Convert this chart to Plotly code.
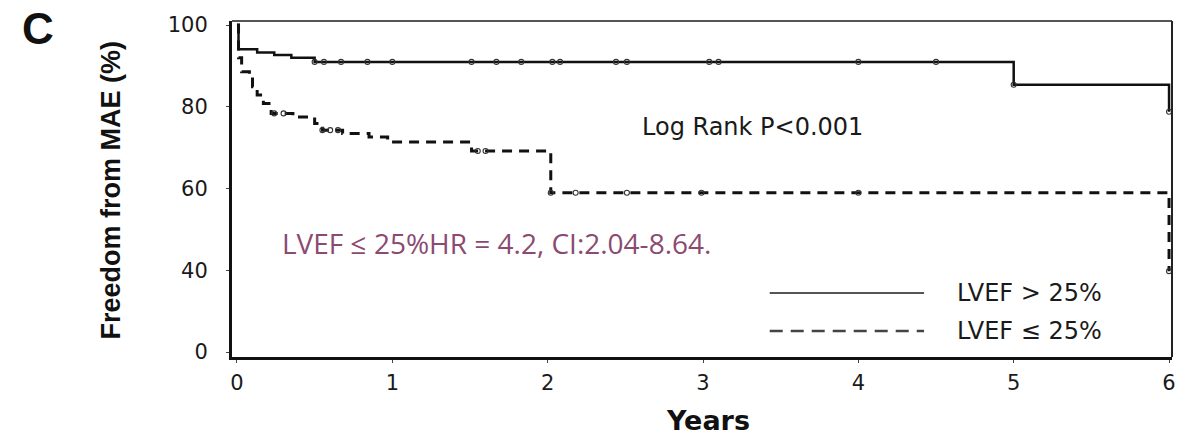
import numpy as np
import plotly.graph_objects as go

# Kaplan-Meier step data (years, % free from MAE)
high_ef_times = [0.0, 0.01, 0.13, 0.24, 0.35, 0.50, 5.00, 6.00]
high_ef_surv = [100.0, 94.1, 93.3, 92.7, 92.0, 91.0, 85.4, 78.8]

low_ef_times = [0.0, 0.01, 0.03, 0.08, 0.10, 0.13, 0.17, 0.22, 0.36, 0.50,
                0.55, 0.68, 0.85, 0.97, 1.51, 2.02, 6.00]
low_ef_surv = [100.0, 92.0, 88.6, 87.4, 84.9, 82.9, 80.8, 78.4, 77.5, 75.9,
               74.3, 73.5, 72.6, 71.4, 69.2, 59.0, 39.6]

# censored observations (years)
high_ef_censored = [0.50, 0.56, 0.67, 0.84, 1.00, 1.51, 1.67, 1.83, 2.03, 2.08,
                    2.44, 2.51, 3.04, 3.10, 4.00, 4.50, 5.00, 6.00]
low_ef_censored = [0.24, 0.30, 0.55, 0.60, 0.65, 1.55, 1.60, 2.02, 2.18, 2.51,
                   2.99, 4.00, 6.00]

y_tick_values = [0, 40, 60, 80, 100]
x_tick_values = [0, 1, 2, 3, 4, 5, 6]

series_names = ["LVEF > 25%", "LVEF \u2264 25%"]
p_value_text = "Log Rank P<0.001"
hr_text = "LVEF \u2264 25%HR = 4.2, CI:2.04-8.64."

# broken y axis: 0-40 is compressed to half scale
def ybreak(v):
    v = np.asarray(v, dtype=float)
    return np.where(v >= 40, v, 40 - (40 - v) / 2.0)


def step_value(times, surv, t):
    idx = np.searchsorted(np.asarray(times), np.asarray(t), side="right") - 1
    return np.asarray(surv)[idx]


W, H = 1188, 439
L, R, T, B = 232, 12, 21, 82
PW, PH = W - L - R, H - T - B


def px(x, y):
    return (x - L) / PW, (H - B - y) / PH


fig = go.Figure()

fig.add_trace(go.Scatter(
    x=high_ef_times, y=ybreak(high_ef_surv), mode="lines", line_shape="hv",
    line=dict(color="#111", width=2.5), name=series_names[0], showlegend=False))
fig.add_trace(go.Scatter(
    x=low_ef_times, y=ybreak(low_ef_surv), mode="lines", line_shape="hv",
    line=dict(color="#111", width=3, dash="10px,7px"), name=series_names[1],
    showlegend=False))

censor_marker = dict(symbol="circle-open", size=5, color="#333",
                     line=dict(width=1.1))
fig.add_trace(go.Scatter(
    x=high_ef_censored,
    y=ybreak(step_value(high_ef_times, high_ef_surv, high_ef_censored)),
    mode="markers", marker=censor_marker, showlegend=False, hoverinfo="skip"))
fig.add_trace(go.Scatter(
    x=low_ef_censored,
    y=ybreak(step_value(low_ef_times, low_ef_surv, low_ef_censored)),
    mode="markers", marker=censor_marker, showlegend=False, hoverinfo="skip"))

tick_font = dict(family="DejaVu Sans", size=21, color="#1a1a1a")

fig.update_xaxes(
    range=[-0.032, 6.019], tickvals=x_tick_values,
    ticktext=[str(v) for v in x_tick_values],
    showline=True, linecolor="#111", linewidth=3, ticks="outside", ticklen=3,
    tickcolor="#444", showgrid=False, zeroline=False, tickfont=tick_font,
    ticklabelstandoff=2)
fig.update_yaxes(
    range=[18.8, 101.0], tickvals=list(ybreak(y_tick_values)),
    ticktext=[str(v) for v in y_tick_values],
    showline=True, linecolor="#111", linewidth=3, ticks="outside", ticklen=3,
    tickcolor="#444", showgrid=False, zeroline=False, tickfont=tick_font,
    ticklabelstandoff=14)

shapes = [
    # top and right frame
    dict(type="line", xref="paper", yref="paper", x0=0, x1=1, y0=1, y1=1,
         line=dict(color="#555", width=2)),
    dict(type="line", xref="paper", yref="paper", x0=1, x1=1, y0=0, y1=1,
         line=dict(color="#222", width=2)),
]
# legend samples
lx0, ly1 = px(772, 293)
lx1, _ = px(927, 293)
_, ly2 = px(772, 331)
shapes.append(dict(type="line", xref="paper", yref="paper", x0=lx0, x1=lx1,
                   y0=ly1, y1=ly1, line=dict(color="#555", width=2.2)))
shapes.append(dict(type="line", xref="paper", yref="paper", x0=lx0, x1=lx1,
                   y0=ly2, y1=ly2, line=dict(color="#444", width=2.5,
                                             dash="13px,8px")))

annotations = []


def add_text(text, x, y, size, xanchor="center", bold=False, family="DejaVu Sans",
             color="#1a1a1a", angle=0):
    ax, ay = px(x, y)
    annotations.append(dict(
        text=text, xref="paper", yref="paper", x=ax, y=ay, xanchor=xanchor,
        yanchor="middle", showarrow=False, textangle=angle,
        font=dict(family=family, size=size, color=color,
                  weight="bold" if bold else "normal")))


add_text("C", 37, 28, 44, bold=True, family="Liberation Sans", color="#111")
add_text("Freedom from MAE (%)", 110, 190, 27, bold=True,
         family="Liberation Sans", color="#111", angle=-90)
add_text("Years", 710, 420, 27, bold=True, color="#111")
add_text(p_value_text, 755, 127, 24)
add_text(series_names[0], 958, 293, 24, xanchor="left")
add_text(series_names[1], 958, 331, 24, xanchor="left")
add_text(hr_text, 280, 243, 28, xanchor="left", family="Open Sans",
         color="#8c4a72")

fig.update_layout(
    width=W, height=H, margin=dict(l=L, r=R, t=T, b=B, pad=0),
    plot_bgcolor="white", paper_bgcolor="white",
    shapes=shapes, annotations=annotations, showlegend=False)

fig.write_html("out.html")
